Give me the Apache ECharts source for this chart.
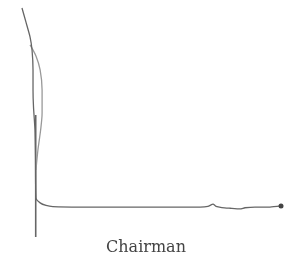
<!DOCTYPE html>
<html>
<head>
<meta charset="utf-8">
<script src="https://cdn.jsdelivr.net/npm/echarts@6/dist/echarts.min.js"></script>
<style>
  html, body { margin: 0; padding: 0; background: #fff; }
  #chart { width: 284px; height: 261px; }
</style>
</head>
<body>
<div id="chart"></div>
<script>
// main decay trace (x, y)
const mainX = [-5.6, -4.0, -2.3, -1.5, -1.1, -1.1, -0.9, -0.3, -0.1, 0.1, 1.8, 4.2, 7.0, 18.1, 46.6, 67.0, 70.2, 72.3, 73.5, 75.9, 79.2, 83.3, 85.3, 89.4, 95.5, 100];
const mainY = [98.7, 92.7, 86.2, 80.6, 72.0, 63.4, 56.0, 46.1, 33.2, 16.8, 14.7, 13.6, 13.1, 12.9, 12.9, 12.9, 13.2, 14.2, 13.2, 12.7, 12.4, 12.1, 12.6, 12.9, 12.9, 13.4];
// second, fainter strand
const sideX = [-2.3, 0.1, 1.8, 2.6, 2.6, 2.0, 0.9, 0.1];
const sideY = [82.8, 78.0, 72.0, 63.4, 53.4, 46.1, 37.5, 28.9];
// vertical baseline stroke
const stemX = [0, 0];
const stemY = [52.6, 0];
const xName = 'Chairman';

const zip = (xs, ys) => xs.map((x, i) => [x, ys[i]]);
const mainData = zip(mainX, mainY).map((p, i, a) =>
  i === a.length - 1 ? { value: p, symbol: 'circle', symbolSize: 5 } : { value: p, symbol: 'none' });

const chart = echarts.init(document.getElementById('chart'), null, { renderer: 'canvas' });
chart.setOption({
  backgroundColor: '#ffffff',
  animation: false,
  grid: { left: 21, right: 3, top: 5, bottom: 24 },
  xAxis: {
    type: 'value', min: -6, max: 100,
    axisLine: { show: false }, axisTick: { show: false }, axisLabel: { show: false }, splitLine: { show: false },
    name: xName, nameLocation: 'middle', nameGap: 3,
    nameTextStyle: { fontFamily: 'DejaVu Serif', fontSize: 16, color: '#444', padding: [0, 0, 0, -10] }
  },
  yAxis: {
    type: 'value', min: 0, max: 100,
    axisLine: { show: false }, axisTick: { show: false }, axisLabel: { show: false }, splitLine: { show: false }
  },
  series: [
    {
      type: 'line', data: zip(stemX, stemY), symbol: 'none',
      lineStyle: { color: '#666', width: 1.6 }
    },
    {
      type: 'line', data: zip(sideX, sideY), symbol: 'none', smooth: 0.3,
      lineStyle: { color: '#999', width: 1.3 }
    },
    {
      type: 'line', data: mainData, smooth: 0.2,
      itemStyle: { color: '#444' },
      lineStyle: { color: '#666', width: 1.3 }
    }
  ]
});
</script>
</body>
</html>
